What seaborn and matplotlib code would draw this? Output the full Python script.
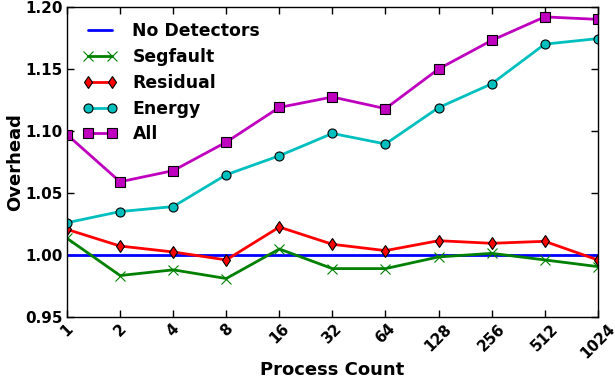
import numpy as np
import pandas as pd
import matplotlib
matplotlib.use("Agg")
import matplotlib.pyplot as plt
import seaborn as sns

process_counts = ["1", "2", "4", "8", "16", "32", "64", "128", "256", "512", "1024"]
no_detectors = [1.0] * 11
segfault = [1.0134, 0.9834, 0.988, 0.981, 1.0048, 0.989, 0.989, 0.9984, 1.0013, 0.996, 0.9906]
residual = [1.0206, 1.0072, 1.0024, 0.996, 1.0225, 1.0086, 1.0035, 1.0115, 1.0094, 1.011, 0.996]
energy = [1.026, 1.035, 1.039, 1.0647, 1.080, 1.098, 1.0895, 1.1188, 1.138, 1.170, 1.1745]
all_det = [1.097, 1.059, 1.068, 1.091, 1.119, 1.1274, 1.118, 1.150, 1.173, 1.192, 1.190]

sns.set_style("ticks")
plt.rcParams["font.family"] = ["DejaVu Sans"]
plt.rcParams["font.weight"] = "bold"
plt.rcParams["axes.labelweight"] = "bold"
plt.rcParams["xtick.direction"] = "in"
plt.rcParams["ytick.direction"] = "in"
plt.rcParams["text.color"] = "black"
plt.rcParams["axes.labelcolor"] = "black"
plt.rcParams["xtick.color"] = "black"
plt.rcParams["ytick.color"] = "black"
plt.rcParams["axes.edgecolor"] = "black"

pos = np.arange(len(process_counts))

fig = plt.figure(figsize=(6.15, 3.87), dpi=100)
ax = fig.add_axes([0.109, 0.181, 0.863, 0.801])

series = [
    ("No Detectors", no_detectors, "b", None),
    ("Segfault", segfault, "g", "x"),
    ("Residual", residual, "r", "d"),
    ("Energy", energy, "c", "o"),
    ("All", all_det, "m", "s"),
]
for name, vals, col, mk in series:
    sns.lineplot(x=pos, y=vals, ax=ax, color=col, marker=mk, markersize=6.5,
                 markeredgecolor="k" if mk not in (None, "x") else col,
                 markeredgewidth=0.8, linewidth=2, label=name)

ax.set_xlim(0, 10)
ax.set_ylim(0.95, 1.20)
ax.set_xticks(pos)
ax.set_xticklabels(process_counts, rotation=45, fontsize=10.8, fontweight="bold")
ax.set_yticks([0.95, 1.00, 1.05, 1.10, 1.15, 1.20])
ax.set_yticklabels(["0.95", "1.00", "1.05", "1.10", "1.15", "1.20"], fontsize=11, fontweight="bold")
ax.tick_params(top=True, right=True, length=5, width=1, pad=3)
for s in ax.spines.values():
    s.set_linewidth(1)
ax.set_xlabel("Process Count", fontsize=13, fontweight="bold", labelpad=0)
ax.set_ylabel("Overhead", fontsize=13, fontweight="bold", labelpad=1)

leg = ax.legend(loc="upper left", frameon=False, numpoints=2, handlelength=2.0,
                handletextpad=0.9, prop={"size": 12.4, "weight": "bold"},
                borderaxespad=0.5, labelspacing=0.45)

fig.savefig("out.png", dpi=100)
